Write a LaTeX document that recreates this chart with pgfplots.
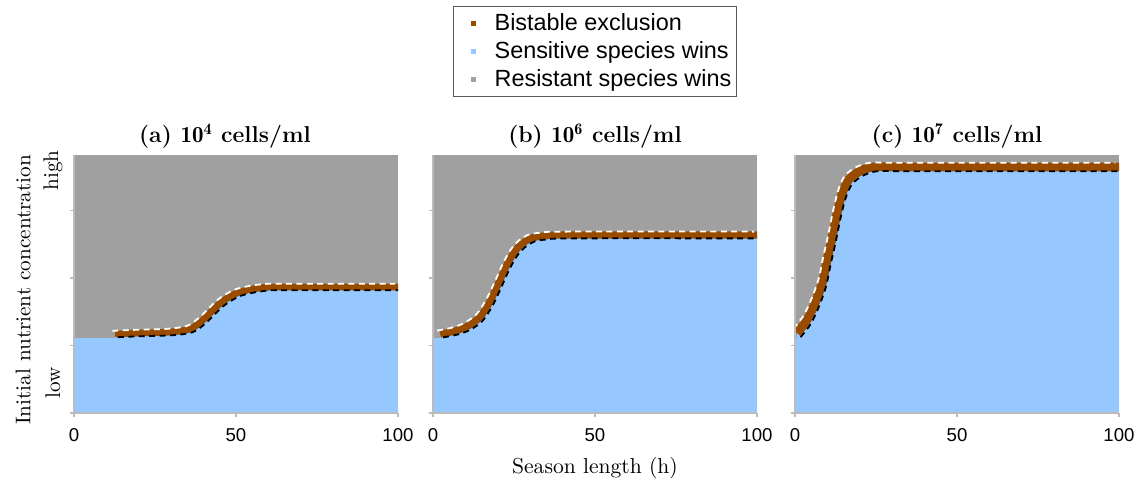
\documentclass[border=0pt]{standalone}
\usepackage{pgfplots}
\pgfplotsset{compat=1.18}
\usepackage{pgfplotstable}
\usepackage{fontspec}
\newfontfamily\helv{Liberation Sans}
\definecolor{bist}{HTML}{994C00}
\definecolor{sens}{HTML}{97C7FF}
\definecolor{resi}{HTML}{A0A0A0}
\definecolor{axgray}{HTML}{BBBBBB}

% boundary of the bistable band (centre line), one table per panel
\pgfplotstableread{
x y
12.7 79
20 80
29.6 81
35.8 84
39.8 93
42.9 103
46.0 112
50.3 120
55.2 124
60.5 126
66.7 126
100 126
}\curveA
\pgfplotstableread{
x y
2.2 79
6.8 82
10.8 87
14.5 96
17.5 111
20.0 128
22.5 146
24.9 160
27.4 169
30.5 175
34.5 177
42.2 178
100 178
}\curveB
\pgfplotstableread{
x y
0.6 80
3.7 93
6.2 110
8.4 130
9.9 153
11.5 176
13.0 200
14.6 220
16.5 233
19.6 241
24.2 246
34.8 246
100 246
}\curveC

\pgfplotsset{
  panel/.style={
    scale only axis, width=162pt, height=129pt, anchor=south west,
    xmin=0, xmax=100, ymin=0, ymax=258,
    axis lines=left, axis line style={-, draw=axgray, line width=0.8pt},
    axis background/.style={fill=resi}, axis on top,
    xtick={0,50,100}, ytick={0,67.5,135,202.5}, yticklabels={},
    tick align=outside, major tick length=2pt,
    tick style={draw=axgray, line width=0.6pt},
    tick label style={font=\helv\fontsize{9.3}{11}\selectfont},
    xticklabel style={yshift=-2pt},
    /pgf/number format/assume math mode=true,
    title style={font=\bfseries\fontsize{11.5}{13}\selectfont, at={(0.5,1)}, anchor=base, yshift=0pt},
  },
  band/.style={bist, line width=#1, smooth, tension=0.5},
  wline/.style={white, dash pattern=on 3pt off 2.2pt, line width=0.9pt, smooth, tension=0.5},
  bline/.style={black, dash pattern=on 3pt off 2.2pt, line width=0.9pt, smooth, tension=0.5},
  sfill/.style={draw=none, fill=sens, smooth, tension=0.5},
}

\begin{document}
\begin{tikzpicture}
\path[use as bounding box] (0,0) rectangle (568.5pt,-241.5pt);

% (a)
\begin{axis}[panel, at={(37pt,-206.5pt)}, title={(a) $\mathbf{10^4}$ cells/ml},
  title style={xshift=-5.5pt},
  ylabel={Initial nutrient concentration},
  ylabel style={at={(axis description cs:-0.157,0.477)}, anchor=center, font=\fontsize{10.6}{12}\selectfont},
  extra description/.code={
    \node[rotate=90, font=\fontsize{10.6}{12}\selectfont] at (-0.065,0.116) {low};
    \node[rotate=90, font=\fontsize{10.6}{12}\selectfont] at (-0.065,0.94) {high};
  }]
  \addplot[draw=none, fill=sens] coordinates {(0,0) (0,75) (14,75) (14,0)} --cycle;
  \addplot[sfill] table {\curveA} \closedcycle;
  \addplot[band=3.4pt] table {\curveA};
  \addplot[wline, xshift=-1.4pt, yshift=1.6pt] table {\curveA};
  \addplot[bline, xshift=1.4pt, yshift=-1.6pt] table {\curveA};
\end{axis}

% (b)
\begin{axis}[panel, at={(216.5pt,-206.5pt)}, title={(b) $\mathbf{10^6}$ cells/ml},
  xlabel={Season length (h)},
  xlabel style={at={(axis description cs:0.5,0)}, anchor=base, yshift=-30pt, font=\fontsize{10.8}{12}\selectfont},
  legend image code/.code={\path[draw=none, fill=none] (0pt,0pt) -- (18pt,0pt); \fill[#1, draw=none] (7.5pt,-1.25pt) rectangle (10pt,1.25pt);},
  legend style={at={(axis description cs:0.5,1)}, anchor=south, yshift=29pt,
    font=\helv\fontsize{11.7}{13.5}\selectfont, draw=gray!70!black, line width=0.4pt,
    row sep=0pt, inner xsep=1pt, inner ysep=1.5pt,
    nodes={inner xsep=1.5pt}},
  legend cell align=left]
  \addlegendimage{fill=bist}
  \addlegendentry{Bistable exclusion}
  \addlegendimage{fill=sens}
  \addlegendentry{Sensitive species wins}
  \addlegendimage{fill=resi}
  \addlegendentry{Resistant species wins}
  \addplot[draw=none, fill=sens, forget plot] coordinates {(0,0) (0,75) (3,75) (3,0)} --cycle;
  \addplot[sfill, forget plot] table {\curveB} \closedcycle;
  \addplot[band=3.6pt, forget plot] table {\curveB};
  \addplot[wline, xshift=-1.5pt, yshift=1.7pt, forget plot] table {\curveB};
  \addplot[bline, xshift=1.5pt, yshift=-1.7pt, forget plot] table {\curveB};
\end{axis}

% (c)
\begin{axis}[panel, at={(397.5pt,-206.5pt)}, title={(c) $\mathbf{10^7}$ cells/ml}]
  \addplot[draw=none, fill=sens] coordinates {(0,0) (0,75) (1.5,75) (1.5,0)} --cycle;
  \addplot[sfill] table {\curveC} \closedcycle;
  \addplot[band=4.4pt] table {\curveC};
  \addplot[wline, xshift=-1.8pt, yshift=2.1pt] table {\curveC};
  \addplot[bline, xshift=1.8pt, yshift=-2.1pt] table {\curveC};
\end{axis}
\end{tikzpicture}
\end{document}
